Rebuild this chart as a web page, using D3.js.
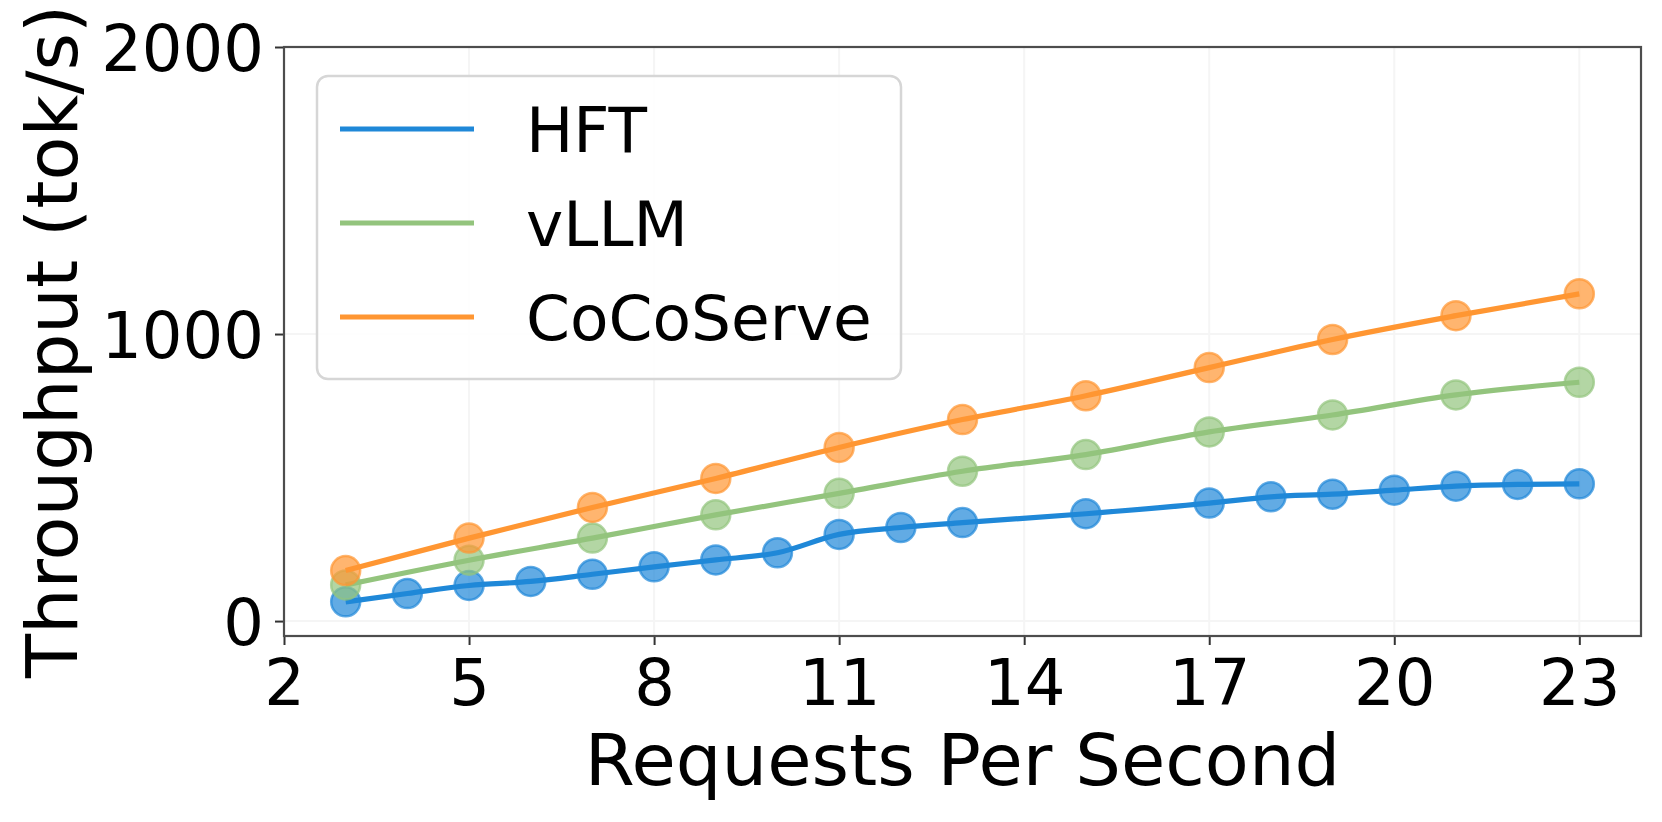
<!DOCTYPE html>
<html>
<head>
<meta charset="utf-8">
<script src="https://cdn.jsdelivr.net/npm/d3@7"></script>
<style>
  html, body { margin: 0; padding: 0; background: #fff; }
  svg { display: block; }
  text { font-family: "DejaVu Sans", sans-serif; fill: #000; }
</style>
</head>
<body>
<svg id="chart" width="1662" height="822"></svg>
<script>
// ---- data ----
const xHFT = [3, 4, 5, 6, 7, 8, 9, 10, 11, 12, 13, 15, 17, 18, 19, 20, 21, 22, 23];
const hftValues = [67, 96, 124, 138, 163, 189, 213, 238, 302, 326, 343, 374, 411, 433, 442, 456, 470, 476, 478];
const xOther = [3, 5, 7, 9, 11, 13, 15, 17, 19, 21, 23];
const vllmValues = [126, 212, 289, 370, 445, 522, 580, 659, 718, 788, 832];
const cocoValues = [176, 289, 396, 497, 605, 702, 785, 883, 981, 1064, 1140];
const seriesNames = ["HFT", "vLLM", "CoCoServe"];
const xTicks = [2, 5, 8, 11, 14, 17, 20, 23];
const yTicks = [0, 1000, 2000];
const xLabel = "Requests Per Second";
const yLabel = "Throughput (tok/s)";

const colors = ["#1f88d8", "#93c47d", "#ff9632"];
const series = [
  { name: seriesNames[0], xs: xHFT, ys: hftValues, color: colors[0] },
  { name: seriesNames[1], xs: xOther, ys: vllmValues, color: colors[1] },
  { name: seriesNames[2], xs: xOther, ys: cocoValues, color: colors[2] }
];

// ---- layout ----
const svg = d3.select("#chart");
const plot = { left: 284, right: 1641, top: 47, bottom: 636 };

const x = d3.scaleLinear().domain([2, 24]).range([plot.left, plot.right]);
const y = d3.scaleLinear().domain([-52, 2000]).range([plot.bottom, plot.top]);

// grid
const grid = svg.append("g");
grid.selectAll("line.vx").data(xTicks).join("line")
  .attr("x1", d => x(d)).attr("x2", d => x(d))
  .attr("y1", plot.top).attr("y2", plot.bottom)
  .attr("stroke", "#f5f5f5").attr("stroke-width", 2);
grid.selectAll("line.hy").data(yTicks).join("line")
  .attr("x1", plot.left).attr("x2", plot.right)
  .attr("y1", d => y(d)).attr("y2", d => y(d))
  .attr("stroke", "#f5f5f5").attr("stroke-width", 2);

// axes
const xAxis = d3.axisBottom(x).tickValues(xTicks).tickSize(9).tickPadding(14).tickFormat(d3.format("d"));
const yAxis = d3.axisLeft(y).tickValues(yTicks).tickSize(9).tickPadding(11).tickFormat(d3.format("d"));

const gx = svg.append("g").attr("transform", `translate(0,${plot.bottom})`).call(xAxis);
gx.select(".domain").remove();
gx.selectAll(".tick line").attr("stroke", "#333").attr("stroke-width", 2);
gx.selectAll(".tick text")
  .attr("font-family", "DejaVu Sans").attr("font-size", 64).attr("fill", "#000")
  .attr("dy", null).attr("y", 69).attr("dominant-baseline", "alphabetic");

const gy = svg.append("g").attr("transform", `translate(${plot.left},0)`).call(yAxis);
gy.select(".domain").remove();
gy.selectAll(".tick line").attr("stroke", "#333").attr("stroke-width", 2);
gy.selectAll(".tick text")
  .attr("font-family", "DejaVu Sans").attr("font-size", 64).attr("fill", "#000")
  .attr("dy", "0.36em");

// series
const line = d3.line().x(d => x(d[0])).y(d => y(d[1])).curve(d3.curveMonotoneX);
const marks = svg.append("g");
series.forEach(s => {
  const pts = s.xs.map((v, i) => [v, s.ys[i]]);
  const g = marks.append("g");
  g.selectAll("circle").data(pts).join("circle")
    .attr("cx", d => x(d[0])).attr("cy", d => y(d[1])).attr("r", 14.5)
    .attr("fill", s.color).attr("fill-opacity", 0.7)
    .attr("stroke", s.color).attr("stroke-opacity", 0.7).attr("stroke-width", 2.5);
  g.append("path").datum(pts).attr("d", line)
    .attr("fill", "none").attr("stroke", s.color).attr("stroke-width", 5.2);
});

// spines
svg.append("rect")
  .attr("x", plot.left).attr("y", plot.top)
  .attr("width", plot.right - plot.left).attr("height", plot.bottom - plot.top)
  .attr("fill", "none").attr("stroke", "#4d4d4d").attr("stroke-width", 2.2);

// legend
const lg = svg.append("g");
lg.append("rect")
  .attr("x", 317).attr("y", 76).attr("width", 584).attr("height", 303)
  .attr("rx", 11).attr("ry", 11)
  .attr("fill", "#fff").attr("fill-opacity", 0.85)
  .attr("stroke", "#d6d6d6").attr("stroke-width", 2.5);
series.forEach((s, i) => {
  const cy = 129 + i * 94;
  lg.append("line")
    .attr("x1", 340).attr("x2", 474).attr("y1", cy).attr("y2", cy)
    .attr("stroke", s.color).attr("stroke-width", 5.2);
  lg.append("text")
    .attr("x", 526).attr("y", cy + 23)
    .attr("font-size", 63)
    .text(s.name);
});

// axis labels
svg.append("text")
  .attr("x", (plot.left + plot.right) / 2).attr("y", 785)
  .attr("text-anchor", "middle").attr("font-size", 72)
  .text(xLabel);
svg.append("text")
  .attr("transform", `translate(77,${(plot.top + plot.bottom) / 2}) rotate(-90)`)
  .attr("text-anchor", "middle").attr("font-size", 72)
  .text(yLabel);
</script>
</body>
</html>
